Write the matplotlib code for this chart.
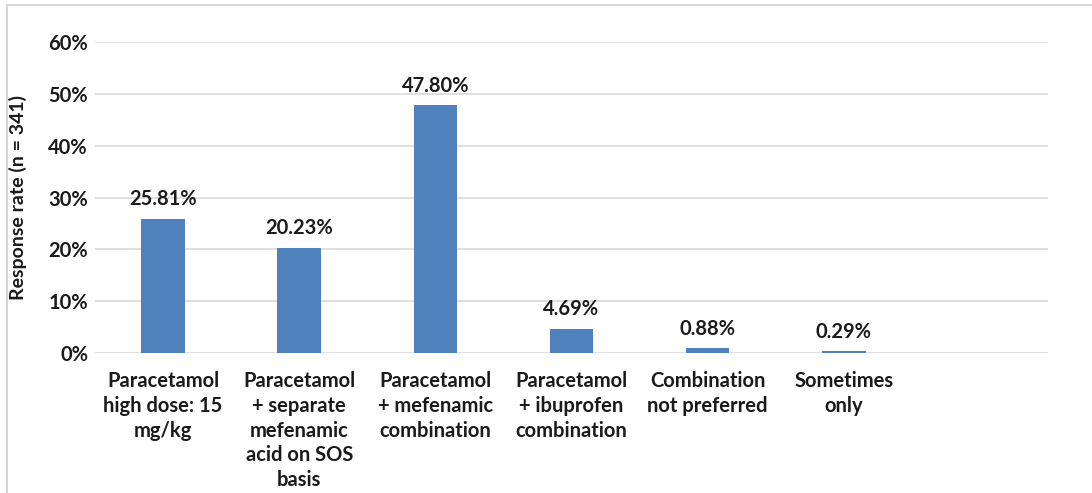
import matplotlib
matplotlib.use("Agg")
import matplotlib.pyplot as plt
from matplotlib.patches import Rectangle

categories = [
    "Paracetamol\nhigh dose: 15\nmg/kg",
    "Paracetamol\n+ separate\nmefenamic\nacid on SOS\nbasis",
    "Paracetamol\n+ mefenamic\ncombination",
    "Paracetamol\n+ ibuprofen\ncombination",
    "Combination\nnot preferred",
    "Sometimes\nonly",
    "",
]
values = [25.81, 20.23, 47.80, 4.69, 0.88, 0.29, None]
value_labels = ["25.81%", "20.23%", "47.80%", "4.69%", "0.88%", "0.29%", ""]
yticks = [0, 10, 20, 30, 40, 50, 60]
ytick_labels = ["0%", "10%", "20%", "30%", "40%", "50%", "60%"]
ylabel = "Response rate (n = 341)"

plt.rcParams['font.family'] = ['Lato', 'DejaVu Sans']

W, H = 1092, 493
fig = plt.figure(figsize=(W / 100, H / 100), dpi=100)
fig.patch.set_facecolor("white")

left, right, top, bottom = 95, 1048, 42, 353
ax = fig.add_axes([left / W, 1 - bottom / H, (right - left) / W, (bottom - top) / H])

FS = 14.5
TXT = "#1a1a1a"

xs = list(range(len(categories)))
bar_x = [x for x, v in zip(xs, values) if v is not None]
bar_v = [v for v in values if v is not None]
ax.bar(bar_x, bar_v, width=0.32, color="#4F81BD", zorder=3)

ax.set_xlim(-0.5, len(categories) - 0.5)
ax.set_ylim(0, 60)
ax.set_yticks(yticks)
ax.set_yticklabels(ytick_labels, fontsize=FS, fontweight="bold", color=TXT)
ax.set_xticks(xs)
ax.set_xticklabels(categories, fontsize=FS, fontweight="bold", color=TXT,
                   linespacing=1.3, va="top")
ax.tick_params(axis="both", length=0)
ax.tick_params(axis="y", pad=5)
ax.tick_params(axis="x", pad=13)
ax.grid(axis="y", color="#D9D9D9", linewidth=1.2, zorder=0)
for s in ax.spines.values():
    s.set_visible(False)

for x, v, lab in zip(xs, values, value_labels):
    if v is None:
        continue
    ax.annotate(lab, (x, v), xytext=(0, 7), textcoords="offset points",
                ha="center", va="bottom", fontsize=FS, fontweight="bold", color=TXT)

fig.text(18 / W, 1 - 197 / H, ylabel, rotation=90, ha="center", va="center",
         fontsize=14, fontweight="bold", color=TXT)

fig.patches.append(Rectangle((7 / W, -0.05), 1.1, 1 - 5 / H + 0.05, transform=fig.transFigure,
                             fill=False, edgecolor="#D0D0D0", linewidth=1.2))

fig.savefig("out.png", dpi=100, facecolor="white")
